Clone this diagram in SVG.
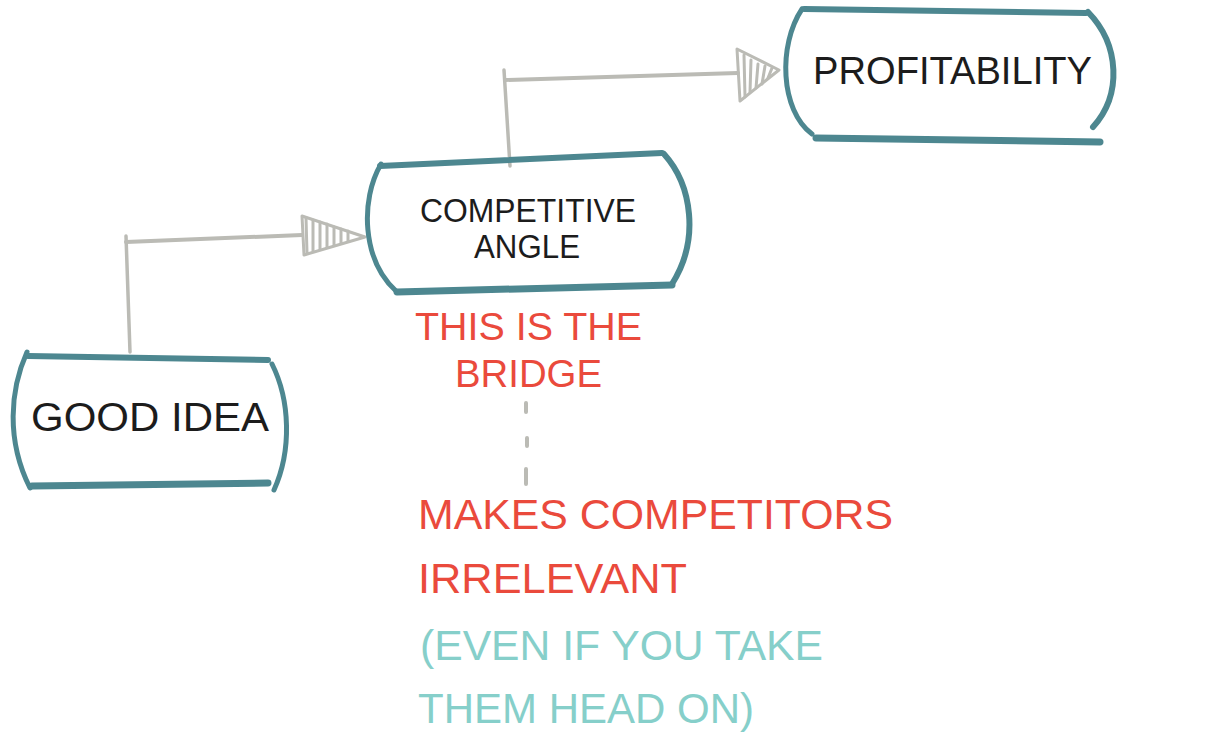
<svg xmlns="http://www.w3.org/2000/svg" width="1215" height="743" viewBox="0 0 1215 743">
<style>
.box{fill:none;stroke:#4d8790;stroke-linecap:round;stroke-linejoin:round}
.t{font-family:"Liberation Sans",Arial,sans-serif;fill:#1c1c1c}
.red{font-family:"Liberation Sans",Arial,sans-serif;fill:#ea4a3c}
.cyan{font-family:"Liberation Sans",Arial,sans-serif;fill:#86cfca}
.con{fill:none;stroke:#bbbbb5;stroke-linecap:round;stroke-linejoin:round}
.head{fill:none;stroke:#bbbbb5;stroke-width:3;stroke-linecap:round;stroke-linejoin:round}
</style>
<rect width="1215" height="743" fill="#ffffff"/>
<g id="connectors">
  <path class="con" stroke-width="3.5" d="M130 352 L126 236"/>
  <path class="con" stroke-width="4" d="M126 242 L302 235"/>
  <g class="head">
    <path d="M302 216 L365 237 L304 255 Z"/>
    <path d="M306 218 L307 253 M313 220 L313 251 M320 222 L320 249 M327 224 L327 247 M334 227 L334 245 M341 229 L341 243 M348 231 L348 241"/>
  </g>
  <path class="con" stroke-width="3.5" d="M510 166 L504 70"/>
  <path class="con" stroke-width="4" d="M505 80 L738 73"/>
  <g class="head">
    <path d="M737 49 L779 70 L740 101 Z"/>
    <path d="M744 55 L745 97 M751 60 L750 92 M758 64 L756 88 M765 66 L762 84 M772 68 L768 78"/>
  </g>
  <path class="con" stroke-width="4" d="M526 403 L526 412 M527 438 L527 446 M526 469 L526 484"/>
</g>
<g id="node-good-idea">
  <path class="box" stroke-width="5" d="M27 352 C10 390 6 440 30 488"/>
  <path class="box" stroke-width="6" d="M28 356 L268 360"/>
  <path class="box" stroke-width="5" d="M272 364 C290 400 292 450 274 490"/>
  <path class="box" stroke-width="7" d="M32 486 L268 483"/>
  <text class="t" x="31" y="431" font-size="41" textLength="238" lengthAdjust="spacingAndGlyphs">GOOD IDEA</text>
</g>
<g id="node-competitive-angle">
  <path class="box" stroke-width="5" d="M381 164 C360 200 362 260 396 291"/>
  <path class="box" stroke-width="6" d="M380 166 L662 153"/>
  <path class="box" stroke-width="6" d="M664 154 C692 185 700 240 672 284"/>
  <path class="box" stroke-width="7" d="M397 292 L672 285"/>
  <text class="t" x="420" y="222" font-size="33" textLength="216" lengthAdjust="spacingAndGlyphs">COMPETITIVE</text>
  <text class="t" x="474" y="258" font-size="33" textLength="106" lengthAdjust="spacingAndGlyphs">ANGLE</text>
</g>
<g id="node-profitability">
  <path class="box" stroke-width="5" d="M802 9 C778 45 780 110 812 134"/>
  <path class="box" stroke-width="6" d="M804 9 L1086 13"/>
  <path class="box" stroke-width="6" d="M1088 12 C1120 45 1122 95 1093 127"/>
  <path class="box" stroke-width="7" d="M816 138 L1100 142"/>
  <text class="t" x="813" y="84" font-size="39" textLength="279" lengthAdjust="spacingAndGlyphs">PROFITABILITY</text>
</g>
<g id="annotations">
  <text class="red" x="415" y="340" font-size="39" textLength="227" lengthAdjust="spacingAndGlyphs">THIS IS THE</text>
  <text class="red" x="455" y="387" font-size="39" textLength="147" lengthAdjust="spacingAndGlyphs">BRIDGE</text>
  <text class="red" x="418" y="529" font-size="42" textLength="475" lengthAdjust="spacingAndGlyphs">MAKES COMPETITORS</text>
  <text class="red" x="418" y="593" font-size="42" textLength="269" lengthAdjust="spacingAndGlyphs">IRRELEVANT</text>
  <text class="cyan" x="420" y="660" font-size="42" textLength="403" lengthAdjust="spacingAndGlyphs">(EVEN IF YOU TAKE</text>
  <text class="cyan" x="418" y="723" font-size="42" textLength="336" lengthAdjust="spacingAndGlyphs">THEM HEAD ON)</text>
</g>
</svg>
